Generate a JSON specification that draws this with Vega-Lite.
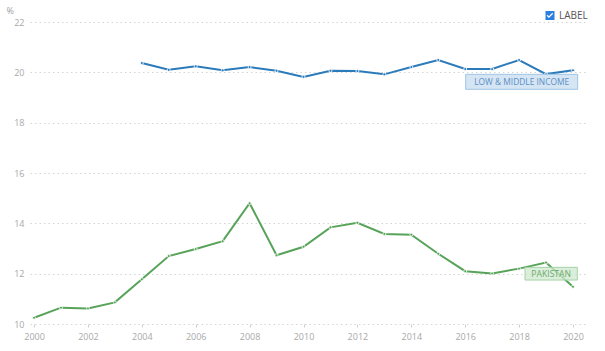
{
  "$schema": "https://vega.github.io/schema/vega-lite/v6.json",
  "width": 557,
  "height": 302,
  "autosize": {"type": "none"},
  "padding": {"left": 30, "top": 22, "right": 18, "bottom": 27},
  "background": "white",
  "config": {
    "font": "Open Sans",
    "view": {"stroke": null},
    "axis": {"domain": false, "labelFont": "Open Sans", "titleFont": "Open Sans"}
  },
  "datasets": {
    "rows": [
      {"series": "Pakistan", "year": 2000, "value": 10.25},
      {"series": "Pakistan", "year": 2001, "value": 10.65},
      {"series": "Pakistan", "year": 2002, "value": 10.62},
      {"series": "Pakistan", "year": 2003, "value": 10.86},
      {"series": "Pakistan", "year": 2004, "value": 11.78},
      {"series": "Pakistan", "year": 2005, "value": 12.70},
      {"series": "Pakistan", "year": 2006, "value": 12.98},
      {"series": "Pakistan", "year": 2007, "value": 13.29},
      {"series": "Pakistan", "year": 2008, "value": 14.80},
      {"series": "Pakistan", "year": 2009, "value": 12.73},
      {"series": "Pakistan", "year": 2010, "value": 13.07},
      {"series": "Pakistan", "year": 2011, "value": 13.84},
      {"series": "Pakistan", "year": 2012, "value": 14.02},
      {"series": "Pakistan", "year": 2013, "value": 13.58},
      {"series": "Pakistan", "year": 2014, "value": 13.55},
      {"series": "Pakistan", "year": 2015, "value": 12.79},
      {"series": "Pakistan", "year": 2016, "value": 12.10},
      {"series": "Pakistan", "year": 2017, "value": 12.01},
      {"series": "Pakistan", "year": 2018, "value": 12.20},
      {"series": "Pakistan", "year": 2019, "value": 12.44},
      {"series": "Pakistan", "year": 2020, "value": 11.48},
      {"series": "Low & middle income", "year": 2004, "value": 20.37},
      {"series": "Low & middle income", "year": 2005, "value": 20.10},
      {"series": "Low & middle income", "year": 2006, "value": 20.24},
      {"series": "Low & middle income", "year": 2007, "value": 20.08},
      {"series": "Low & middle income", "year": 2008, "value": 20.21},
      {"series": "Low & middle income", "year": 2009, "value": 20.06},
      {"series": "Low & middle income", "year": 2010, "value": 19.82},
      {"series": "Low & middle income", "year": 2011, "value": 20.06},
      {"series": "Low & middle income", "year": 2012, "value": 20.05},
      {"series": "Low & middle income", "year": 2013, "value": 19.92},
      {"series": "Low & middle income", "year": 2014, "value": 20.21},
      {"series": "Low & middle income", "year": 2015, "value": 20.49},
      {"series": "Low & middle income", "year": 2016, "value": 20.13},
      {"series": "Low & middle income", "year": 2017, "value": 20.13},
      {"series": "Low & middle income", "year": 2018, "value": 20.49},
      {"series": "Low & middle income", "year": 2019, "value": 19.93},
      {"series": "Low & middle income", "year": 2020, "value": 20.08}
    ]
  },
  "data": {"name": "rows"},
  "encoding": {
    "x": {
      "field": "year",
      "type": "quantitative",
      "scale": {"domain": [1999.85, 2020.52], "nice": false, "zero": false},
      "axis": {
        "title": null,
        "values": [2000, 2002, 2004, 2006, 2008, 2010, 2012, 2014, 2016, 2018, 2020],
        "format": "d",
        "grid": false,
        "ticks": true,
        "tickSize": 3,
        "tickColor": "#cccccc",
        "labelColor": "#a8a8a8",
        "labelFontSize": 9,
        "labelPadding": 5
      }
    },
    "y": {
      "field": "value",
      "type": "quantitative",
      "scale": {"domain": [10, 22], "nice": false, "zero": false},
      "axis": {
        "values": [10, 12, 14, 16, 18, 20, 22],
        "grid": true,
        "gridColor": "#d4d4d4",
        "gridDash": [1.5, 3],
        "gridWidth": 1,
        "ticks": false,
        "labelColor": "#a8a8a8",
        "labelFontSize": 9,
        "labelPadding": 6,
        "title": "%",
        "titleAngle": 0,
        "titleX": -24,
        "titleY": -9,
        "titleAlign": "left",
        "titleBaseline": "alphabetic",
        "titleFontSize": 9,
        "titleFontWeight": "normal",
        "titleColor": "#a0a0a0"
      }
    }
  },
  "layer": [
    {
      "mark": {"type": "line", "strokeWidth": 2},
      "encoding": {
        "color": {
          "field": "series",
          "type": "nominal",
          "scale": {"domain": ["Low & middle income", "Pakistan"], "range": ["#2b7bbb", "#58a35a"]},
          "legend": null
        }
      }
    },
    {
      "mark": {"type": "point", "filled": true, "size": 9, "opacity": 1, "stroke": "white", "strokeWidth": 0.8},
      "encoding": {
        "color": {
          "field": "series",
          "type": "nominal",
          "scale": {"domain": ["Low & middle income", "Pakistan"], "range": ["#2b7bbb", "#58a35a"]},
          "legend": null
        }
      }
    },
    {
      "transform": [{"filter": "datum.year == 2020 && datum.series == 'Low & middle income'"}],
      "mark": {
        "type": "point",
        "shape": "M-107.3,4L4.7,4L4.7,19L-107.3,19Z",
        "size": 4,
        "filled": true,
        "fill": "#cfe1f2",
        "fillOpacity": 0.85,
        "stroke": "#9fc4e6",
        "strokeWidth": 1,
        "opacity": 1
      }
    },
    {
      "transform": [{"filter": "datum.year == 2020 && datum.series == 'Low & middle income'"}],
      "mark": {"type": "text", "text": "LOW & MIDDLE INCOME", "dx": -51.3, "dy": 11.8, "align": "center", "baseline": "middle", "fontSize": 8.4, "font": "Open Sans", "color": "#5a8fc4"}
    },
    {
      "transform": [{"filter": "datum.year == 2020 && datum.series == 'Pakistan'"}],
      "mark": {
        "type": "point",
        "shape": "M-48,-19.4L4.3,-19.4L4.3,-6.7L-48,-6.7Z",
        "size": 4,
        "filled": true,
        "fill": "#cfe8cf",
        "fillOpacity": 0.75,
        "stroke": "#a6d3a6",
        "strokeWidth": 1,
        "opacity": 1
      }
    },
    {
      "transform": [{"filter": "datum.year == 2020 && datum.series == 'Pakistan'"}],
      "mark": {"type": "text", "text": "PAKISTAN", "dx": -21.8, "dy": -13, "align": "center", "baseline": "middle", "fontSize": 8.6, "font": "Open Sans", "color": "#6aab6a"}
    },
    {
      "transform": [{"filter": "datum.year == 2020 && datum.series == 'Pakistan'"}],
      "mark": {"type": "point", "filled": true, "opacity": 0, "color": "#2a7de1"},
      "encoding": {
        "shape": {
          "datum": "LABEL",
          "type": "nominal",
          "scale": {"range": ["M-1,-1L1,-1L1,1L-1,1ZM-0.75,0.05L-0.25,0.55L0.7,-0.4L0.5,-0.6L-0.25,0.15L-0.55,-0.15Z"]},
          "legend": {
            "orient": "none",
            "legendX": 515,
            "legendY": -11.5,
            "title": null,
            "padding": 0,
            "symbolSize": 81,
            "symbolFillColor": "#2a7de1",
            "symbolStrokeWidth": 0,
            "symbolOpacity": 1,
            "labelFontSize": 10,
            "labelFont": "Open Sans",
            "labelColor": "#555555",
            "labelOffset": 4
          }
        }
      }
    }
  ]
}
